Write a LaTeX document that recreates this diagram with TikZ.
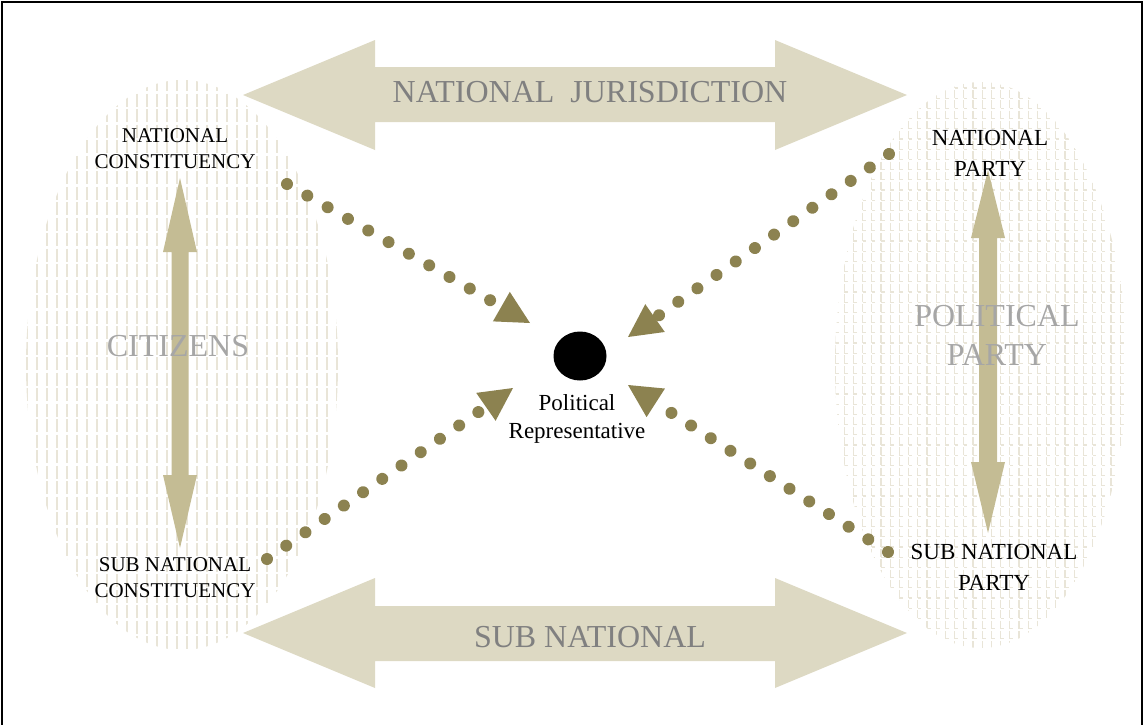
\documentclass[tikz,border=0pt]{standalone}
\usepackage{fontspec}
\setmainfont{Liberation Serif}
\usetikzlibrary{arrows.meta,shapes.geometric}
\definecolor{bigcol}{HTML}{DDD9C3}
\definecolor{vertcol}{HTML}{C4BC94}
\definecolor{dotcol}{HTML}{8C8250}
\definecolor{texcol}{HTML}{E9E5D8}
\definecolor{bigtextcol}{HTML}{808080}
\definecolor{softcol}{HTML}{A6A6A6}
\tikzset{
  bigarrow/.style={fill=bigcol, draw=none},
  vertarrow/.style={fill=vertcol, draw=none},
  bigtxt/.style={text=bigtextcol, font=\fontsize{32}{38}\selectfont, inner sep=0pt, anchor=base},
  softtxt/.style={text=softcol, font=\fontsize{32}{39}\selectfont, inner sep=0pt, align=center},
  lbl/.style={font=\fontsize{21}{26}\selectfont, align=center, inner sep=0pt},
  lblr/.style={font=\fontsize{23}{31}\selectfont, align=center, inner sep=0pt},
  reptxt/.style={font=\fontsize{23}{28}\selectfont, align=center, inner sep=0pt},
  dotarrow/.style={draw=dotcol, line width=12pt, line cap=round, dash pattern=on 0.01pt off 23.39pt,
    -{Triangle[length=33pt,width=34pt,line width=0pt]}},
  lefttex/.style={draw=texcol, line width=1.6pt, dash pattern=on 13pt off 2.5pt},
  righttexv/.style={draw=texcol, line width=1.3pt, dash pattern=on 8pt off 2.2pt},
  righttexh/.style={draw=texcol, line width=1.3pt, dash pattern=on 3.5pt off 5.7pt},
  frameline/.style={draw=black, line width=2pt},
}
\begin{document}
\begin{tikzpicture}[x=1pt,y=-1pt]
\useasboundingbox (0,0) rectangle (1144,724);

% left texture (citizens)
\begin{scope}
  \clip (182,365) ellipse [x radius=156pt, y radius=285pt];
  \foreach \x in {27,37,...,337} \draw[lefttex] (\x,78) -- (\x,652);
\end{scope}

% right texture (political party)
\begin{scope}
  \clip (981,365) ellipse [x radius=146pt, y radius=283pt];
  \foreach \i in {0,...,32} \draw[righttexv] (835+9.2*\i,80) -- (835+9.2*\i,650);
  \foreach \j in {0,...,56} \draw[righttexh] (835,88+10.2*\j) -- (1130,88+10.2*\j);
\end{scope}

% vertical double arrows
\fill[vertarrow] (180,178) -- (197,252) -- (188.5,252) -- (188.5,475) -- (197,475) -- (180,548)
  -- (163,475) -- (171.5,475) -- (171.5,252) -- (163,252) -- cycle;
\fill[vertarrow] (988,170) -- (1005,238) -- (997,238) -- (997,462) -- (1005,462) -- (988,533)
  -- (971,462) -- (979,462) -- (979,238) -- (971,238) -- cycle;

% big horizontal double arrows
\fill[bigarrow] (243,95) -- (375,40) -- (375,67) -- (775,67) -- (775,40) -- (907,95)
  -- (775,150) -- (775,122) -- (375,122) -- (375,150) -- cycle;
\fill[bigarrow] (243,633) -- (375,578) -- (375,606) -- (775,606) -- (775,578) -- (907,633)
  -- (775,688) -- (775,661) -- (375,661) -- (375,688) -- cycle;

\node[bigtxt] (natjur) at (590,102) {NATIONAL~ JURISDICTION};
\node[bigtxt] (subnat) at (590,647) {SUB NATIONAL};
\node[softtxt] (citizens) at (178,346) {CITIZENS};
\node[softtxt] (polparty) at (997,335.5) {POLITICAL\\PARTY};

% labels
\node[lbl] (natcon) at (175,148.5) {NATIONAL\\CONSTITUENCY};
\node[lbl] (subcon) at (175,577.5) {SUB NATIONAL\\CONSTITUENCY};
\node[lblr] (natpty) at (990,153) {NATIONAL\\PARTY};
\node[lblr] (subpty) at (994,567) {SUB NATIONAL\\PARTY};

% central representative
\node[ellipse, fill=black, draw=none, minimum width=53pt, minimum height=49pt, inner sep=0pt] (rep) at (580,356) {};
\node[reptxt] (reptext) at (577,419) {Political\\Representative};

% dotted connectors
\coordinate (tlS) at (287,184);
\coordinate (tlE) at (530,323);
\coordinate (trS) at (889,154);
\coordinate (trE) at (628,337);
\coordinate (blS) at (267,559);
\coordinate (blE) at (513,388);
\coordinate (brS) at (888,552);
\coordinate (brE) at (628,385);
\draw[dotarrow] (tlS) -- (tlE);
\draw[dotarrow] (trS) -- (trE);
\draw[dotarrow] (blS) -- (blE);
\draw[dotarrow] (brS) -- (brE);

% frame
\draw[frameline] (2,726) -- (2,2) -- (1142,2) -- (1142,726);
\end{tikzpicture}
\end{document}
